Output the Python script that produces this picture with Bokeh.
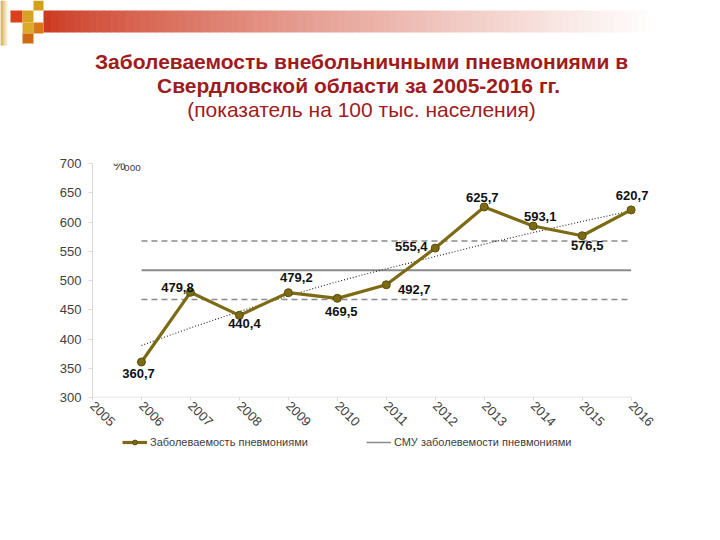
import math
from bokeh.plotting import figure
from bokeh.models import (Range1d, FixedTicker, Legend, LegendItem, ColumnDataSource)
from bokeh.layouts import column
from bokeh.embed import file_html
from bokeh.resources import INLINE
from bokeh.core.properties import value

# ---------------- data ----------------
years = [2006, 2007, 2008, 2009, 2010, 2011, 2012, 2013, 2014, 2015, 2016]
incidence = [360.7, 479.8, 440.4, 479.2, 469.5, 492.7, 555.4, 625.7, 593.1, 576.5, 620.7]
incidence_labels = ["360,7", "479,8", "440,4", "479,2", "469,5", "492,7",
                    "555,4", "625,7", "593,1", "576,5", "620,7"]
trend = [389, 419, 447, 474, 498, 520, 541, 562, 582, 601, 619]
smu_level = 517.6
smu_upper = 567.6
smu_lower = 467.6
year_ticks = [2005, 2006, 2007, 2008, 2009, 2010, 2011, 2012, 2013, 2014, 2015, 2016]
y_ticks = [300, 350, 400, 450, 500, 550, 600, 650, 700]
title_lines = ["Заболеваемость внебольничными пневмониями в",
               "Свердловской области  за 2005-2016 гг.",
               "(показатель на 100 тыс. населения)"]
legend_labels = ["Заболеваемость пневмониями", "СМУ заболевемости пневмониями"]
unit_label = "%"
unit_small = "ooo"

# ---------------- styles ----------------
FONT = "Liberation Sans"
OLIVE = "#7d6b14"
OLIVE_DARK = "#5a4c0a"
GRAY = "#8a8a8a"
TXT = "#404040"
AXIS = "#d9d9d9"
TITLE_RED = "#9e1b20"

label_dx = [-3, -13, 5, 8, 4, 28, -24, -2, 7, 5, 1]
label_dy = [12, -5, 8, -15, 13, 5, -2, -9, -10, 10, -14]

W = 720
HEAD_H = 148
MAIN_H = 285
FOOT_H = 107

# ---------------- header: decoration + title ----------------
h = figure(width=W, height=HEAD_H, x_range=Range1d(0, W), y_range=Range1d(HEAD_H, 0),
           output_backend="svg", toolbar_location=None, min_border=0)
h.axis.visible = False
h.grid.visible = False
h.outline_line_color = None
h.frame_align = False

def lerp(c1, c2, t):
    return "#%02x%02x%02x" % tuple(int(round(a + (b - a) * t)) for a, b in zip(c1, c2))

n = 90
x0, x1 = 43, 720
bl, br, bc = [], [], []
for i in range(n):
    t = i / (n - 1)
    bl.append(x0 + (x1 - x0) * i / n)
    br.append(x0 + (x1 - x0) * (i + 1) / n + 0.6)
    bc.append(lerp((204, 58, 34), (255, 255, 255), min(1.0, t ** 0.8 * 1.08)))
h.quad(left=bl, right=br, top=[10] * n, bottom=[32] * n, fill_color=bc, line_color=None)

gl, gr, gc = [], [], []
for i in range(8):
    gl.append(i)
    gr.append(i + 1.05)
    gc.append(lerp((200, 150, 40), (255, 250, 235), i / 7))
h.quad(left=gl, right=gr, top=[0] * 8, bottom=[45] * 8, fill_color=gc, line_color=None)

sq_l = [10, 22, 33, 22, 33, 22]
sq_r = [22, 33, 43, 33, 43, 33]
sq_t = [10, 10, 0, 22, 22, 33]
sq_b = [22, 22, 10, 33, 33, 43]
sq_c = ["#d9401c", "#d6a424", "#d4a017", "#dcaa2a", "#d8781a", "#d06a12"]
h.quad(left=sq_l, right=sq_r, top=sq_t, bottom=sq_b, fill_color=sq_c, line_color=None)

h.text(x=[361, 361], y=[61, 85], text=title_lines[:2], text_align="center",
       text_baseline="middle", text_font=value(FONT), text_font_style="bold",
       text_font_size="21px", text_color=TITLE_RED)
h.text(x=[361], y=[109], text=title_lines[2:], text_align="center",
       text_baseline="middle", text_font=value(FONT), text_font_size="21px",
       text_color=TITLE_RED)

# ---------------- main chart ----------------
p = figure(width=W, height=MAIN_H, x_range=Range1d(2005, 2016.6), y_range=Range1d(300, 700),
           output_backend="svg", toolbar_location=None,
           min_border_left=92, min_border_right=60, min_border_top=15, min_border_bottom=36)
p.grid.visible = False
p.outline_line_color = None
p.frame_align = False

p.yaxis.ticker = FixedTicker(ticks=y_ticks)
p.yaxis.major_label_text_font = FONT
p.yaxis.major_label_text_font_size = "13px"
p.yaxis.major_label_text_color = TXT
p.yaxis.axis_line_color = AXIS
p.yaxis.major_tick_line_color = AXIS
p.yaxis.major_tick_out = 4
p.yaxis.major_tick_in = 0
p.yaxis.minor_tick_line_color = None
p.yaxis.major_label_standoff = 7

p.xaxis.ticker = FixedTicker(ticks=year_ticks)
p.xaxis.major_label_text_font = FONT
p.xaxis.major_label_text_font_size = "13px"
p.xaxis.major_label_text_color = TXT
p.xaxis.axis_line_color = None
p.xaxis.major_tick_line_color = AXIS
p.xaxis.major_tick_out = 3
p.xaxis.major_tick_in = 0
p.xaxis.minor_tick_line_color = None
p.xaxis.major_label_orientation = -math.pi / 4
p.xaxis.major_label_standoff = 3

p.line(x=[year_ticks[0], year_ticks[-1]], y=[y_ticks[0], y_ticks[0]], line_color=AXIS, line_width=1.5)

p.line(x=[years[0], years[-1]], y=[smu_upper, smu_upper], line_color=GRAY, line_width=1.5, line_dash="6 4")
p.line(x=[years[0], years[-1]], y=[smu_lower, smu_lower], line_color=GRAY, line_width=1.5, line_dash="6 4")
p.line(x=[years[0], years[-1]], y=[smu_level, smu_level], line_color=GRAY, line_width=2)

p.line(x=years, y=trend, line_color="#202020", line_width=1.1, line_dash="1 2")

p.line(x=years, y=incidence, line_color=OLIVE, line_width=3.2)
p.scatter(x=years, y=incidence, size=8, fill_color=OLIVE, line_color=OLIVE_DARK, line_width=1)

src = ColumnDataSource(dict(x=years, y=incidence, t=incidence_labels, dx=label_dx, dy=label_dy))
p.text(x="x", y="y", text="t", x_offset="dx", y_offset="dy", source=src,
       text_align="center", text_baseline="middle", text_font=value(FONT),
       text_font_style="bold", text_font_size="13px", text_color="#111111")

p.text(x=[2005.42], y=[697], text=[unit_label], text_align="left", text_baseline="middle",
       text_font=value(FONT), text_font_size="14px", text_color=TXT)
p.text(x=[2005.42], y=[697], text=[unit_small], x_offset=[11], y_offset=[2], text_align="left",
       text_baseline="middle", text_font=value(FONT), text_font_size="10px", text_color=TXT)

# ---------------- footer: legend ----------------
f = figure(width=W, height=FOOT_H, x_range=Range1d(0, W), y_range=Range1d(FOOT_H, 0),
           output_backend="svg", toolbar_location=None, min_border=0)
f.axis.visible = False
f.grid.visible = False
f.outline_line_color = None
f.frame_align = False
# legend swatch renderers (kept outside the visible range)
off = [-50, -40]
lg_line = f.line(x=off, y=off, line_color=OLIVE, line_width=3.2)
lg_pts = f.scatter(x=off, y=off, size=8, fill_color=OLIVE, line_color=OLIVE_DARK, line_width=1)
lg_smu = f.line(x=off, y=off, line_color=GRAY, line_width=1.5)

legend = Legend(items=[LegendItem(label=legend_labels[0], renderers=[lg_line, lg_pts]),
                       LegendItem(label=legend_labels[1], renderers=[lg_smu])],
                orientation="horizontal", location=(122, FOOT_H - 15))
legend.label_text_font = FONT
legend.label_text_font_size = "11px"
legend.label_text_color = TXT
legend.border_line_color = None
legend.background_fill_alpha = 0
legend.glyph_width = 25
legend.glyph_height = 12
legend.label_standoff = 3
legend.spacing = 58
legend.padding = 0
legend.margin = 0
f.add_layout(legend)

layout = column(h, p, f, spacing=0)
open("out.html", "w").write(file_html(layout, INLINE))
